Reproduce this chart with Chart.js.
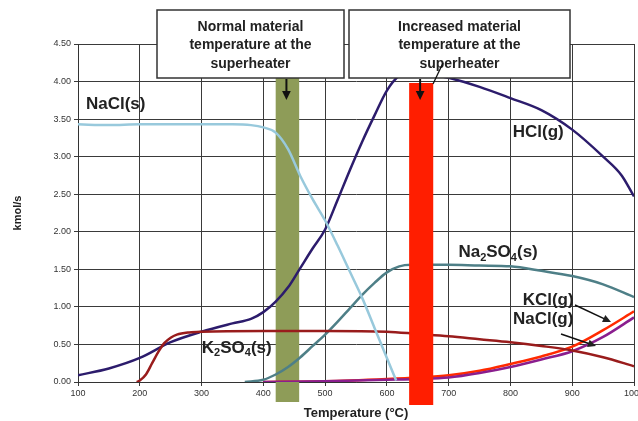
<!DOCTYPE html>
<html>
<head>
<meta charset="utf-8">
<script src="https://cdn.jsdelivr.net/npm/chart.js@4.4.0/dist/chart.umd.min.js"></script>
<style>
  html, body { margin: 0; padding: 0; background: #fff; }
  #wrap { width: 638px; height: 421px; }
</style>
</head>
<body>
<div id="wrap"><canvas id="chart" width="638" height="421"></canvas></div>
<script>
// Temperatures (°C) and flows (kmol/s)
const naclSolidTemp = [100, 150, 200, 250, 300, 350, 380, 400, 420, 440, 460, 480, 500, 520, 540, 560, 580, 600, 615];
const naclSolidVal  = [3.43, 3.42, 3.43, 3.43, 3.43, 3.43, 3.42, 3.39, 3.32, 3.10, 2.74, 2.43, 2.15, 1.82, 1.47, 1.12, 0.72, 0.32, 0.02];

const hclTemp = [100, 150, 200, 250, 300, 350, 380, 400, 420, 440, 460, 480, 500, 520, 540, 560, 580, 600, 620, 640, 660, 700, 750, 800, 850, 900, 950, 980, 1000];
const hclVal  = [0.09, 0.18, 0.32, 0.53, 0.67, 0.78, 0.84, 0.93, 1.07, 1.26, 1.52, 1.78, 2.03, 2.42, 2.82, 3.20, 3.55, 3.88, 4.08, 4.15, 4.12, 4.05, 3.93, 3.78, 3.62, 3.36, 3.00, 2.75, 2.47];

const k2so4Temp = [195, 200, 210, 220, 230, 240, 250, 260, 280, 300, 400, 500, 600, 650, 700, 750, 800, 850, 900, 950, 1000];
const k2so4Val  = [0, 0.02, 0.10, 0.25, 0.40, 0.52, 0.59, 0.63, 0.66, 0.67, 0.68, 0.68, 0.67, 0.64, 0.61, 0.57, 0.53, 0.48, 0.42, 0.33, 0.21];

const na2so4Temp = [370, 400, 420, 440, 460, 480, 500, 520, 540, 560, 580, 600, 620, 640, 700, 750, 800, 850, 900, 950, 1000];
const na2so4Val  = [0, 0.03, 0.10, 0.20, 0.33, 0.48, 0.63, 0.80, 0.98, 1.16, 1.32, 1.46, 1.54, 1.56, 1.56, 1.55, 1.54, 1.48, 1.41, 1.30, 1.13];

const kclGasTemp = [400, 500, 600, 650, 700, 750, 800, 850, 900, 950, 1000];
const kclGasVal  = [0, 0.01, 0.04, 0.06, 0.09, 0.15, 0.24, 0.34, 0.47, 0.69, 0.94];

const naclGasTemp = [400, 500, 600, 650, 700, 750, 800, 850, 900, 950, 1000];
const naclGasVal  = [0, 0.01, 0.03, 0.04, 0.06, 0.12, 0.20, 0.30, 0.41, 0.60, 0.86];

// Superheater material temperature bands (°C)
const normalBand = [420, 458];
const increasedBand = [636, 675];

const xTicks = [100, 1000, 100];   // min, max, step
const yTicks = [0, 4.5, 0.5];

const FONT = "Arial, 'Liberation Sans', sans-serif";

const toPoints = (xs, ys) => xs.map((x, i) => ({ x: x, y: ys[i] }));

const line = (label, xs, ys, color) => ({
  label: label,
  data: toPoints(xs, ys),
  borderColor: color,
  borderWidth: 2.5,
  pointRadius: 0,
  fill: false,
  cubicInterpolationMode: "monotone",
  tension: 0.4,
});

function drawArrow(ctx, x1, y1, x2, y2, head) {
  const a = Math.atan2(y2 - y1, x2 - x1);
  ctx.beginPath();
  ctx.moveTo(x1, y1);
  ctx.lineTo(x2 - Math.cos(a) * head * 0.6, y2 - Math.sin(a) * head * 0.6);
  ctx.stroke();
  ctx.beginPath();
  ctx.moveTo(x2, y2);
  ctx.lineTo(x2 - head * Math.cos(a - 0.45), y2 - head * Math.sin(a - 0.45));
  ctx.lineTo(x2 - head * Math.cos(a + 0.45), y2 - head * Math.sin(a + 0.45));
  ctx.closePath();
  ctx.fill();
}

// text with subscripts: parts = [[text, isSub], ...]
function drawRich(ctx, parts, cx, cy, size) {
  const big = "bold " + size + "px " + FONT;
  const small = "bold " + Math.round(size * 0.65) + "px " + FONT;
  let w = 0;
  parts.forEach(([t, sub]) => { ctx.font = sub ? small : big; w += ctx.measureText(t).width; });
  let x = cx - w / 2;
  ctx.textAlign = "left";
  ctx.textBaseline = "middle";
  parts.forEach(([t, sub]) => {
    ctx.font = sub ? small : big;
    ctx.fillText(t, x, sub ? cy + size * 0.3 : cy);
    x += ctx.measureText(t).width;
  });
}

function drawBand(chart, band, color, topOff, bottomOff) {
  const { ctx, chartArea, scales } = chart;
  const x1 = scales.x.getPixelForValue(band[0]);
  const x2 = scales.x.getPixelForValue(band[1]);
  ctx.save();
  ctx.fillStyle = color;
  ctx.fillRect(x1, chartArea.top + topOff, x2 - x1, chartArea.bottom - chartArea.top - topOff + bottomOff);
  ctx.restore();
}

const overlay = {
  id: "overlay",
  beforeDatasetsDraw(chart) {
    drawBand(chart, normalBand, "#8E9C58", 34, 20);
  },
  afterDatasetsDraw(chart) {
    drawBand(chart, increasedBand, "#FF1E00", 39, 23);
  },
  afterDraw(chart) {
    const { ctx, scales } = chart;
    const px = (v) => scales.x.getPixelForValue(v);
    const py = (v) => scales.y.getPixelForValue(v);
    ctx.save();

    // annotation boxes
    const boxes = [
      { x: 157, w: 187, lines: ["Normal material", "temperature at the", "superheater"] },
      { x: 349, w: 221, lines: ["Increased material", "temperature at the", "superheater"] },
    ];
    boxes.forEach((b) => {
      ctx.fillStyle = "#fff";
      ctx.fillRect(b.x, 10, b.w, 68);
      ctx.strokeStyle = "#333";
      ctx.lineWidth = 1.5;
      ctx.strokeRect(b.x, 10, b.w, 68);
      ctx.fillStyle = "#222";
      ctx.font = "bold 14px " + FONT;
      ctx.textAlign = "center";
      ctx.textBaseline = "middle";
      b.lines.forEach((t, i) => ctx.fillText(t, b.x + b.w / 2, 27 + i * 18.5));
    });

    // arrows from boxes down to the bands
    ctx.strokeStyle = "#111";
    ctx.fillStyle = "#111";
    ctx.lineWidth = 2;
    const nx = px((normalBand[0] + normalBand[1]) / 2) - 1;
    drawArrow(ctx, nx, 79, nx, 100, 10);
    const ix = px(increasedBand[0]) + 11;
    drawArrow(ctx, ix, 79, ix, 100, 10);
    ctx.lineWidth = 1.3;
    ctx.beginPath();
    ctx.moveTo(443, 63);
    ctx.lineTo(433, 84);
    ctx.stroke();

    // series labels
    ctx.fillStyle = "#222";
    drawRich(ctx, [["NaCl(s)", false]], px(161), py(3.70), 17);
    drawRich(ctx, [["HCl(g)", false]], px(845), py(3.33), 17);
    drawRich(ctx, [["Na", false], ["2", true], ["SO", false], ["4", true], ["(s)", false]], px(780), py(1.72), 17);
    drawRich(ctx, [["KCl(g)", false]], px(861), py(1.09), 17);
    drawRich(ctx, [["NaCl(g)", false]], px(853), py(0.83), 17);
    drawRich(ctx, [["K", false], ["2", true], ["SO", false], ["4", true], ["(s)", false]], px(357), py(0.45), 17);

    // label arrows
    ctx.lineWidth = 1.5;
    drawArrow(ctx, 575, 305, 611, 322, 9);
    drawArrow(ctx, 561, 334, 596, 346, 9);

    ctx.restore();
  },
};

new Chart(document.getElementById("chart"), {
  type: "line",
  data: {
    datasets: [
      line("NaCl(s)", naclSolidTemp, naclSolidVal, "#98C9DC"),
      line("K2SO4(s)", k2so4Temp, k2so4Val, "#991C1C"),
      line("Na2SO4(s)", na2so4Temp, na2so4Val, "#4E7F87"),
      line("NaCl(g)", naclGasTemp, naclGasVal, "#8A1E8E"),
      line("KCl(g)", kclGasTemp, kclGasVal, "#FF2A00"),
      line("HCl(g)", hclTemp, hclVal, "#2C1C6C"),
    ],
  },
  options: {
    responsive: false,
    animation: false,
    layout: { padding: { top: 44, right: 4, left: 11, bottom: 0 } },
    plugins: {
      legend: { display: false },
      tooltip: { enabled: false },
    },
    scales: {
      x: {
        type: "linear",
        min: xTicks[0],
        max: xTicks[1],
        ticks: {
          stepSize: xTicks[2],
          color: "#333",
          font: { family: FONT, size: 9 },
          padding: 2,
          maxRotation: 0,
          callback: (v) => String(v),
        },
        grid: { color: "#3a3a3a", lineWidth: 1, tickLength: 4 },
        border: { color: "#333", width: 1 },
        title: {
          display: true,
          text: "Temperature (°C)",
          color: "#222",
          font: { family: FONT, size: 13, weight: "bold" },
          padding: { top: 2, bottom: 0 },
        },
        afterFit(scale) {
          scale.height = 39;
          scale.paddingRight = 0;
        },
      },
      y: {
        min: yTicks[0],
        max: yTicks[1],
        ticks: {
          stepSize: yTicks[2],
          color: "#333",
          font: { family: FONT, size: 9 },
          padding: 3,
          callback: (v) => Number(v).toFixed(2),
        },
        grid: { color: "#3a3a3a", lineWidth: 1, tickLength: 4 },
        border: { color: "#333", width: 1 },
        title: {
          display: true,
          text: "kmol/s",
          color: "#222",
          font: { family: FONT, size: 11, weight: "bold" },
          padding: { top: 0, bottom: 18 },
        },
        afterFit(scale) {
          scale.width = 67;
        },
      },
    },
  },
  plugins: [overlay],
});
</script>
</body>
</html>
